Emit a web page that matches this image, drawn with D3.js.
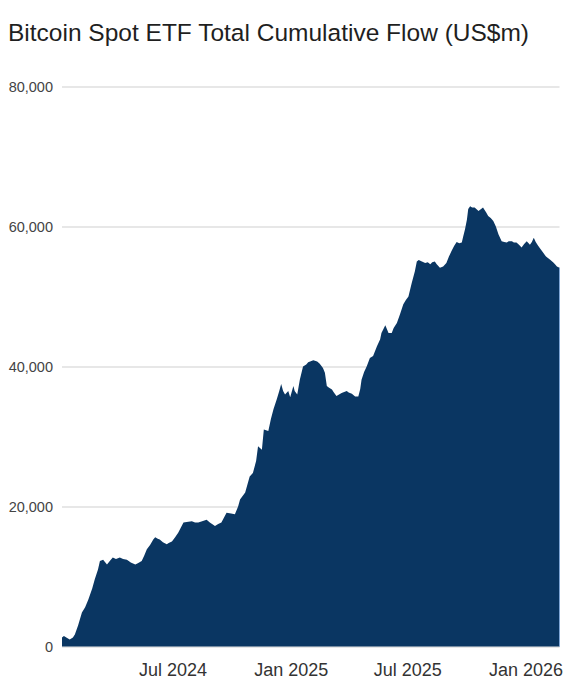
<!DOCTYPE html>
<meta charset="utf-8">
<head>
<style>
  body { margin: 0; background: #fff; }
  svg text { font-family: "Liberation Sans", Arial, sans-serif; }
</style>
</head>
<body>
<div id="chart"></div>
<script src="https://d3js.org/d3.v7.min.js"></script>
<script>
// cumulative flow, US$m
const dates = [
  "2024-01-11","2024-01-14","2024-01-19","2024-01-23","2024-01-28","2024-01-31",
  "2024-02-05","2024-02-11","2024-02-16","2024-02-21","2024-02-27",
  "2024-03-02","2024-03-07","2024-03-10","2024-03-15","2024-03-21","2024-03-26","2024-03-30",
  "2024-04-04","2024-04-10","2024-04-15","2024-04-21","2024-04-27",
  "2024-05-04","2024-05-08","2024-05-14","2024-05-18","2024-05-22","2024-05-27",
  "2024-06-01","2024-06-04","2024-06-08","2024-06-11","2024-06-16","2024-06-22","2024-06-25","2024-06-30",
  "2024-07-05","2024-07-10","2024-07-14","2024-07-18","2024-07-23","2024-07-31",
  "2024-08-05","2024-08-10","2024-08-16","2024-08-23","2024-08-28",
  "2024-09-05","2024-09-10","2024-09-15","2024-09-23","2024-09-30",
  "2024-10-06","2024-10-11","2024-10-14","2024-10-22","2024-10-29",
  "2024-11-03","2024-11-08","2024-11-11","2024-11-17","2024-11-20","2024-11-27",
  "2024-12-01","2024-12-05","2024-12-10","2024-12-14","2024-12-17","2024-12-20","2024-12-23","2024-12-28","2024-12-31",
  "2025-01-05","2025-01-07","2025-01-11","2025-01-15","2025-01-20","2025-01-25","2025-01-28",
  "2025-02-05","2025-02-11","2025-02-15","2025-02-20","2025-02-23","2025-02-26",
  "2025-03-01","2025-03-06","2025-03-09","2025-03-13","2025-03-17","2025-03-21","2025-03-29",
  "2025-04-01","2025-04-06","2025-04-11","2025-04-16","2025-04-19","2025-04-21","2025-04-25","2025-04-29",
  "2025-05-04","2025-05-09","2025-05-15","2025-05-20","2025-05-22","2025-05-28",
  "2025-06-02","2025-06-07","2025-06-10","2025-06-15","2025-06-20","2025-06-25","2025-06-29",
  "2025-07-03","2025-07-08","2025-07-13","2025-07-16","2025-07-19","2025-07-24","2025-07-29",
  "2025-08-02","2025-08-06","2025-08-09","2025-08-13","2025-08-16","2025-08-21","2025-08-26","2025-08-31",
  "2025-09-04","2025-09-08","2025-09-12","2025-09-16","2025-09-20","2025-09-24","2025-09-26","2025-09-29",
  "2025-10-02","2025-10-04","2025-10-07","2025-10-10","2025-10-14","2025-10-20","2025-10-24","2025-10-27",
  "2025-11-01","2025-11-04","2025-11-08","2025-11-12","2025-11-16","2025-11-20","2025-11-25","2025-11-29",
  "2025-12-03","2025-12-06","2025-12-11","2025-12-14","2025-12-18","2025-12-22","2025-12-26","2025-12-30",
  "2026-01-03","2026-01-08","2026-01-11","2026-01-14","2026-01-17","2026-01-21","2026-01-25","2026-01-29",
  "2026-02-02","2026-02-08","2026-02-13","2026-02-16","2026-02-19","2026-02-23"
];
const flows = [
  1300,1500,1200,1000,1300,1700,
  3000,4850,5600,6700,8300,
  9600,11000,12200,12400,11700,12300,12700,
  12500,12700,12500,12400,12000,
  11700,11900,12200,13000,13900,14500,
  15300,15600,15400,15300,14900,14600,14800,15000,
  15600,16300,17000,17700,17800,17900,
  17700,17700,17900,18100,17700,
  17200,17500,17700,19100,19000,
  18900,20000,21000,22000,24300,
  24800,26500,28600,28100,31000,30800,
  32500,33900,35300,36500,37500,36500,36000,36500,35600,
  37200,36500,36000,38100,40000,40300,40600,
  40900,40700,40400,39800,39100,37200,
  37000,36700,36300,35800,36000,36200,36500,
  36300,36100,35700,35700,36800,38100,39200,40000,
  41200,41500,42900,43900,44800,45900,
  44800,44800,45500,46200,47500,48900,49500,
  50000,51900,53600,55000,55200,55000,54800,
  54900,54600,54900,55000,54600,54100,54300,54800,
  55700,56500,57200,57800,57600,57700,58500,59600,
  61000,62500,62900,62700,62700,62200,62500,62700,
  62000,61500,61200,60800,60000,58900,57900,57800,
  57700,57900,57900,57700,57700,57400,57000,57500,
  57900,57400,57800,58400,57800,57200,56700,56200,
  55700,55300,54900,54600,54300,54100
];

const yTicks = [0, 20000, 40000, 60000, 80000];
const xTickDates = ["2024-07-01", "2025-01-01", "2025-07-01", "2026-01-01"];
const xTickLabels = ["Jul 2024", "Jan 2025", "Jul 2025", "Jan 2026"];

const W = 585, H = 680;
const margin = {top: 86.5, right: 25.5, bottom: 33.5, left: 62};
const width = W - margin.left - margin.right,
      height = H - margin.top - margin.bottom;

const parse = d3.timeParse("%Y-%m-%d");
const data = dates.map((d, i) => ({date: parse(d), value: flows[i]}));

const svg = d3.select("#chart").append("svg")
    .attr("width", W)
    .attr("height", H);

svg.append("text")
    .attr("x", 8)
    .attr("y", 41)
    .style("font-size", "24.5px")
    .style("fill", "#1f1f1f")
    .text("Bitcoin Spot ETF Total Cumulative Flow (US$m)");

const g = svg.append("g")
    .attr("transform", `translate(${margin.left},${margin.top})`);

const x = d3.scaleTime()
    .domain(d3.extent(data, d => d.date))
    .range([0, width]);

const y = d3.scaleLinear()
    .domain([0, 80000])
    .range([height, 0]);

// gridlines + y labels
const yAxis = g.append("g")
    .call(d3.axisLeft(y).tickValues(yTicks).tickSize(-width).tickPadding(9)
      .tickFormat(d3.format(",")));
yAxis.select(".domain").remove();
yAxis.selectAll(".tick line").attr("stroke", "#cfcfcf");
yAxis.selectAll(".tick text")
    .style("font-size", "14.5px")
    .style("fill", "#444");

// area
const area = d3.area()
    .x(d => x(d.date))
    .y0(y(0))
    .y1(d => y(d.value))
    .curve(d3.curveLinear);

g.append("path")
    .datum(data)
    .attr("fill", "#0a3662")
    .attr("d", area);

// thin light edge on the right end
const last = data[data.length - 1];
g.append("line")
    .attr("x1", x(last.date)).attr("x2", x(last.date))
    .attr("y1", y(last.value)).attr("y2", y(0))
    .attr("stroke", "#7fa6d6")
    .attr("stroke-width", 1);

// x labels
const xAxis = g.append("g")
    .attr("transform", `translate(0,${height})`)
    .call(d3.axisBottom(x).tickValues(xTickDates.map(parse)).tickSize(0).tickPadding(17)
      .tickFormat((d, i) => xTickLabels[i]));
xAxis.select(".domain").remove();
xAxis.selectAll(".tick text")
    .style("font-size", "18px")
    .style("fill", "#333");
</script>
</body>
